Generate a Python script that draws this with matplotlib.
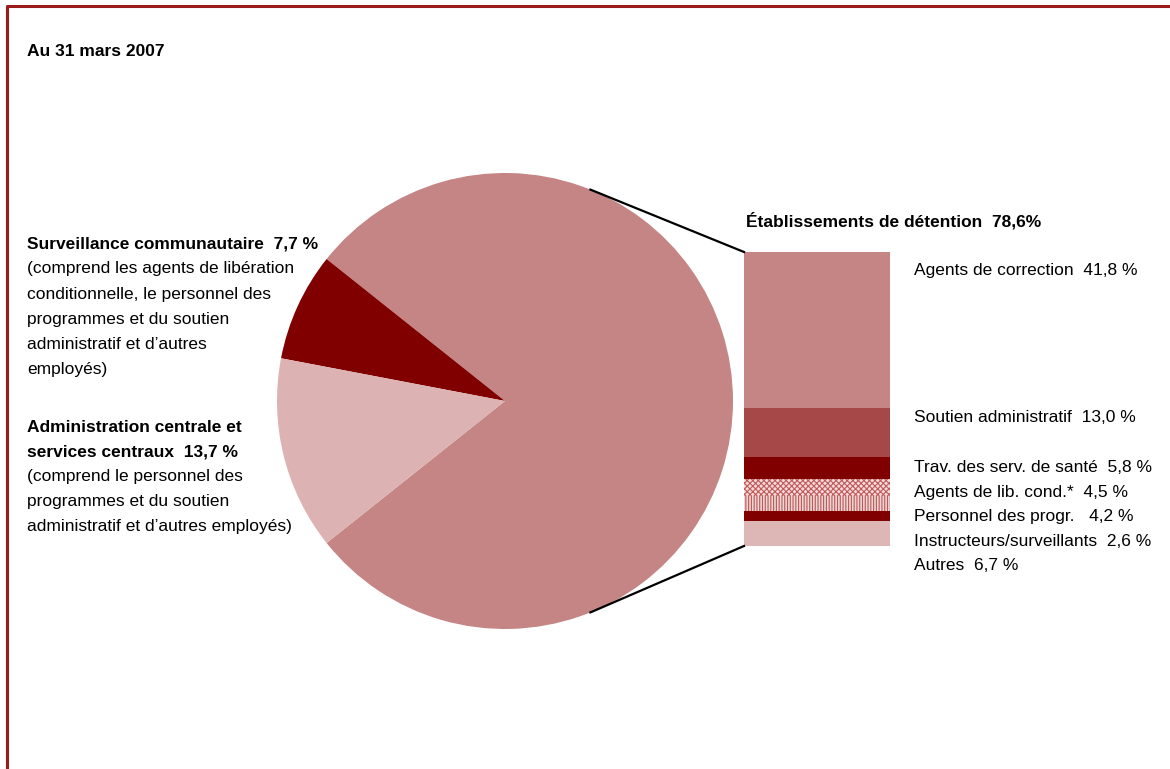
import numpy as np
import matplotlib.pyplot as plt

plt.rcParams['font.family'] = ['Liberation Sans Narrow', 'Liberation Sans', 'DejaVu Sans']
plt.rcParams['hatch.linewidth'] = 0.8

# pie: detention share first, then community, then headquarters
pie_vals = [78.6, 7.7, 13.7]
pie_colors = ['#c58585', '#800000', '#dcb2b2']

# breakdown of the detention slice
sub_labels = ['Agents de correction  41,8 %', 'Soutien administratif  13,0 %',
              'Trav. des serv. de santé  5,8 %', 'Agents de lib. cond.*  4,5 %',
              'Personnel des progr.   4,2 %', 'Instructeurs/surveillants  2,6 %', 'Autres  6,7 %']
sub_vals = [41.8, 13.0, 5.8, 4.5, 4.2, 2.6, 6.7]
sub_colors = ['#c58585', '#a64848', '#800000', '#f4dada', '#f0d4d4', '#800000', '#ddb6b6']
sub_hatch = [None, None, None, 'xxxxxx', '||||||', None, None]
sub_hatch_col = [None, None, None, '#c05a5a', '#b85858', None, None]

left_block1 = ['(comprend les agents de libération', 'conditionnelle, le personnel des',
               'programmes et du soutien', 'administratif et d\u2019autres', 'employés)']
left_block2 = ['(comprend le personnel des', 'programmes et du soutien',
               'administratif et d\u2019autres employés)']

W, H = 1170, 769
fig = plt.figure(figsize=(W / 100, H / 100), dpi=100)
ax = fig.add_axes([0, 0, 1, 1])

# pie
cx, cy, R = 505, H - 401, 228
start = -pie_vals[0] / 100 * 180
ax.pie(pie_vals, colors=pie_colors, startangle=start, counterclock=True,
       center=(cx, cy), radius=R, frame=True, wedgeprops=dict(linewidth=0))
ax.set_xlim(0, W)
ax.set_ylim(0, H)
ax.set_aspect('equal')
ax.axis('off')

# frame (only top and left visible)
ax.plot([7, 7, W + 5], [-5, H - 6, H - 6], color='#9b1b1b', lw=2.2, solid_capstyle='butt')

# stacked bar
bx, bw = 744, 146
btop = H - 252
scale = 294 / sum(sub_vals)
cum = np.concatenate([[0], np.cumsum(sub_vals)[:-1]])
for v, c0, col, h, hc in zip(sub_vals, cum, sub_colors, sub_hatch, sub_hatch_col):
    ax.bar(bx, -v * scale, bottom=btop - c0 * scale, width=bw, align='edge',
           color=col, hatch=h, edgecolor=hc if hc else col, linewidth=0)
bbot = btop - sum(sub_vals) * scale

# connector lines
ang = np.deg2rad(68)
ax.plot([cx + R * np.cos(ang), bx], [cy + R * np.sin(ang), btop], color='black', lw=1.6)
ax.plot([cx + R * np.cos(ang), bx], [cy - R * np.sin(ang), bbot], color='black', lw=1.6)

fs = 12.5
ax.text(27, H - 52, 'Au 31 mars 2007', fontsize=fs, fontweight='bold', va='center')

ax.text(27, H - 244, 'Surveillance communautaire  7,7 %', fontsize=fs, fontweight='bold', va='center')
for i, line in enumerate(left_block1):
    ax.text(27, H - 269 - i * 25.2, line, fontsize=fs, va='center')

ax.text(27, H - 427, 'Administration centrale et', fontsize=fs, fontweight='bold', va='center')
ax.text(27, H - 452, 'services centraux  13,7 %', fontsize=fs, fontweight='bold', va='center')
for i, line in enumerate(left_block2):
    ax.text(27, H - 477 - i * 24.8, line, fontsize=fs, va='center')

ax.text(746, H - 221, 'Établissements de détention  78,6%', fontsize=fs, fontweight='bold', va='center')

label_y = [270, 417, 467, 492, 517, 541, 566]
for lab, y in zip(sub_labels, label_y):
    ax.text(914, H - y, lab, fontsize=fs, va='center')

fig.savefig('out.png', dpi=100)
